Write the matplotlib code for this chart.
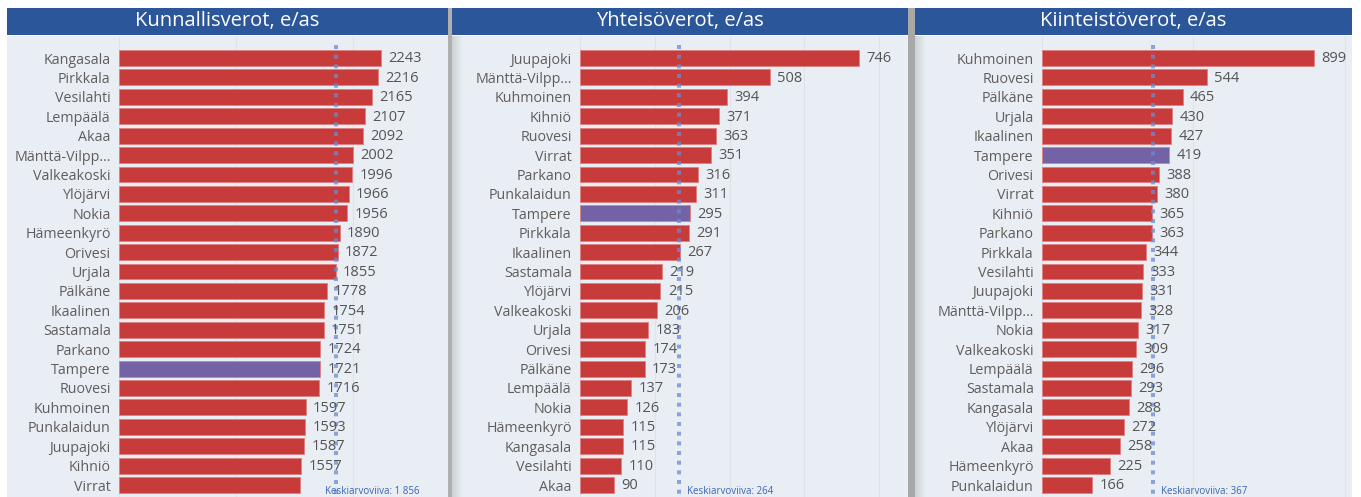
import numpy as np
import matplotlib.pyplot as plt
from matplotlib.patches import Rectangle

plt.rcParams['font.family'] = ['Open Sans', 'DejaVu Sans']

# --- data -------------------------------------------------------------
kunnallis_names = ['Kangasala', 'Pirkkala', 'Vesilahti', 'Lempäälä', 'Akaa',
                   'Mänttä-Vilpp…', 'Valkeakoski', 'Ylöjärvi', 'Nokia', 'Hämeenkyrö',
                   'Orivesi', 'Urjala', 'Pälkäne', 'Ikaalinen', 'Sastamala', 'Parkano',
                   'Tampere', 'Ruovesi', 'Kuhmoinen', 'Punkalaidun', 'Juupajoki',
                   'Kihniö', 'Virrat']
kunnallis_vals = [2243, 2216, 2165, 2107, 2092, 2002, 1996, 1966, 1956, 1890, 1872,
                  1855, 1778, 1754, 1751, 1724, 1721, 1716, 1597, 1593, 1587, 1557, 1549]
kunnallis_mean = 1856

yhteis_names = ['Juupajoki', 'Mänttä-Vilpp…', 'Kuhmoinen', 'Kihniö', 'Ruovesi',
                'Virrat', 'Parkano', 'Punkalaidun', 'Tampere', 'Pirkkala', 'Ikaalinen',
                'Sastamala', 'Ylöjärvi', 'Valkeakoski', 'Urjala', 'Orivesi', 'Pälkäne',
                'Lempäälä', 'Nokia', 'Hämeenkyrö', 'Kangasala', 'Vesilahti', 'Akaa']
yhteis_vals = [746, 508, 394, 371, 363, 351, 316, 311, 295, 291, 267, 219, 215, 206,
               183, 174, 173, 137, 126, 115, 115, 110, 90]
yhteis_mean = 264

kiinteisto_names = ['Kuhmoinen', 'Ruovesi', 'Pälkäne', 'Urjala', 'Ikaalinen', 'Tampere',
                    'Orivesi', 'Virrat', 'Kihniö', 'Parkano', 'Pirkkala', 'Vesilahti',
                    'Juupajoki', 'Mänttä-Vilpp…', 'Nokia', 'Valkeakoski', 'Lempäälä',
                    'Sastamala', 'Kangasala', 'Ylöjärvi', 'Akaa', 'Hämeenkyrö', 'Punkalaidun']
kiinteisto_vals = [899, 544, 465, 430, 427, 419, 388, 380, 365, 363, 344, 333, 331, 328,
                   317, 309, 296, 293, 288, 272, 258, 225, 166]
kiinteisto_mean = 367

titles = ['Kunnallisverot, e/as', 'Yhteisöverot, e/as', 'Kiinteistöverot, e/as']
mean_labels = ['Keskiarvoviiva: 1 856', 'Keskiarvoviiva: 264', 'Keskiarvoviiva: 367']

# --- layout (pixels) --------------------------------------------------
W, H = 1361, 497
fig = plt.figure(figsize=(W / 100, H / 100), dpi=100)
fig.patch.set_facecolor('white')

def fx(x):
    return x / W

def fy(y):
    return 1 - y / H

# panel: left, right, bar start, px per unit, grid step, label offset px
panels = [
    (7, 448, 119, 0.1168, 1000, -11),
    (452, 908, 580, 0.374, 200, 8),
    (915, 1352, 1042, 0.3026, 500, 8),
]
data = [
    (kunnallis_names, kunnallis_vals, kunnallis_mean),
    (yhteis_names, yhteis_vals, yhteis_mean),
    (kiinteisto_names, kiinteisto_vals, kiinteisto_mean),
]

red = '#c83b3b'
purple = '#7462a6'
bg = '#e9eef4'
header = '#2b5699'

# separators
fig.patches.append(Rectangle((fx(448), 0), fx(452) - fx(448), fy(8), transform=fig.transFigure,
                             facecolor='#b0b0b0', edgecolor='none'))
fig.patches.append(Rectangle((fx(908), 0), fx(915) - fx(908), fy(8), transform=fig.transFigure,
                             facecolor='#a8a8a8', edgecolor='none'))

row0, row_step = 58, 19.41
top, bottom = 36, 497

for (left, right, x0, scale, step, lab_off), (names, vals, mean), title, mlabel in zip(
        panels, data, titles, mean_labels):
    # panel background + header
    fig.patches.append(Rectangle((fx(left), 0), fx(right) - fx(left), fy(top),
                                 transform=fig.transFigure, facecolor=bg, edgecolor='none'))
    fig.patches.append(Rectangle((fx(left), fy(35)), fx(right) - fx(left), fy(8) - fy(35),
                                 transform=fig.transFigure, facecolor=header, edgecolor='none'))
    # shadow on left side of panel
    if left > 10:
        for k in range(10):
            fig.patches.append(Rectangle((fx(left + k), 0), fx(1), fy(top),
                                         transform=fig.transFigure, facecolor='#9a9a9a',
                                         edgecolor='none', alpha=0.35 * (1 - k / 10)))
    fig.text(fx((left + right) / 2), fy(21), title, color='white', fontsize=14.5,
             ha='center', va='center')

    ax = fig.add_axes([fx(x0), fy(bottom), fx(right) - fx(x0), fy(top) - fy(bottom)])
    ax.set_zorder(5)
    ax.set_facecolor('none')
    ax.set_xlim(0, (right - x0) / scale)
    ax.set_ylim((bottom - row0) / row_step, -(row0 - top) / row_step)
    y = np.arange(len(names))
    colors = [purple if n == 'Tampere' else red for n in names]
    ax.barh(y, vals, height=0.82, color=colors, edgecolor='#e08080', linewidth=0.6, zorder=2)
    for xg in np.arange(step, ax.get_xlim()[1], step):
        ax.axvline(xg, color='#dde3ea', linewidth=0.8, zorder=1)
    ax.axvline(0, color='#dde3ea', linewidth=0.8, zorder=1)
    ax.set_yticks(y)
    ax.set_yticklabels(names, fontsize=10.3, color='#605e5c')
    ax.tick_params(axis='y', length=0, pad=6)
    ax.set_xticks([])
    for s in ax.spines.values():
        s.set_visible(False)

    for i, v in enumerate(vals):
        if names[i] == 'Virrat' and v == 1549:
            continue
        ax.annotate(str(v), (v, i + 0.04), xytext=(5.3, 0), textcoords='offset points',
                    va='center', ha='left', fontsize=10.5, color='#555555', zorder=4)

    ax.plot([mean, mean], [(45 - row0) / row_step, (bottom - row0) / row_step],
            color='#6a8cd0', alpha=0.75, linewidth=2.9, linestyle=(0, (1, 1.4)),
            solid_capstyle='butt', dash_capstyle='butt', zorder=3)
    ax.annotate(mlabel, (mean, (491 - row0) / row_step), xytext=(lab_off * 0.72, 0),
                textcoords='offset points', ha='left', va='center', fontsize=7,
                color='#3a64b0', zorder=5)

fig.savefig('out.png', dpi=100)
